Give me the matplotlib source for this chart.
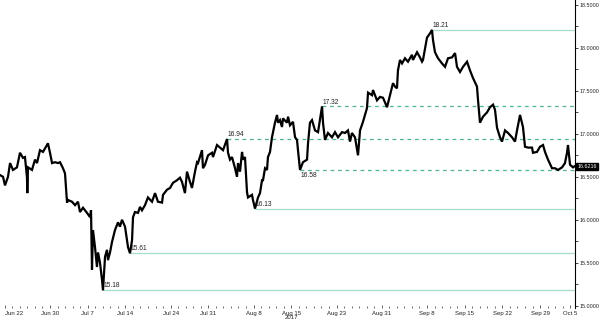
import numpy as np
import pandas as pd
import matplotlib
matplotlib.use('Agg')
import matplotlib.pyplot as plt

# trading-day index (0 = Jun 19 2017), fractional = intraday
days = [2.37, 2.77, 3.03, 3.43, 3.70, 4.09, 4.62, 5.02, 5.42, 5.68, 5.95, 5.99, 6.08, 6.61, 7.01,
        7.28, 7.67, 8.07, 8.60, 8.73, 9.00, 9.27, 9.66, 10.06, 10.33, 10.72, 10.99, 11.26, 11.39,
        11.92, 12.32, 12.71, 12.98, 13.38, 13.91, 14.31, 14.44, 14.57, 14.70, 14.97, 15.23, 15.37,
        15.63, 15.90, 16.03, 16.30, 16.56, 16.69, 16.96, 17.22, 17.62, 18.02, 18.28, 18.55, 18.95,
        19.21, 19.35, 19.61, 19.88, 20.01, 20.27, 20.67, 20.94, 21.20, 21.60, 21.99, 22.53, 22.93,
        23.32, 23.86, 23.99, 24.52, 24.92, 25.31, 25.84, 26.24, 26.51, 26.90, 27.17, 27.57, 27.83,
        28.23, 28.50, 28.63, 29.16, 29.29, 29.56, 29.96, 30.49, 30.62, 31.15, 31.55, 31.95, 32.48,
        32.61, 32.87, 33.14, 33.54, 33.80, 33.94, 34.20, 34.47, 34.60, 34.86, 35.13, 35.26, 35.79,
        35.92, 36.19, 36.59, 36.85, 37.12, 37.25, 37.52, 37.78, 37.91, 38.18, 38.44, 38.58, 38.84,
        39.11, 39.24, 39.50, 39.77, 39.90, 40.43, 40.57, 40.83, 41.23, 41.50, 41.76, 41.89, 42.16,
        42.55, 43.09, 43.22, 43.48, 43.75, 44.15, 44.55, 45.08, 45.21, 45.47, 45.87, 46.40, 46.80,
        47.20, 47.73, 48.13, 48.52, 48.79, 49.05, 49.45, 49.85, 50.12, 50.51, 51.04, 51.18, 51.71,
        51.84, 52.37, 52.77, 53.17, 53.70, 54.09, 54.49, 54.76, 55.02, 55.15, 55.42, 55.69, 56.08,
        56.48, 57.01, 57.14, 57.68, 58.07, 58.34, 58.47, 59.00, 59.40, 59.66, 59.80, 60.06, 60.46,
        60.99, 61.39, 61.79, 62.32, 62.72, 62.98, 63.38, 63.78, 64.31, 64.70, 65.10, 65.63, 65.77,
        66.03, 66.43, 66.96, 67.36, 67.76, 68.02, 68.29, 68.68, 68.95, 69.35, 69.75, 70.28, 70.67,
        70.94, 71.34, 71.73, 72.00, 72.40, 72.93, 73.06, 73.59, 73.99, 74.39, 74.65, 75.05, 75.58,
        75.98, 76.38, 76.91, 77.30, 77.57, 77.70, 77.97, 78.37, 78.55]
prices = [16.52, 16.50, 16.40, 16.50, 16.66, 16.58, 16.61, 16.78, 16.72, 16.73, 16.49, 16.31, 16.61,
          16.58, 16.70, 16.66, 16.81, 16.79, 16.87, 16.89, 16.78, 16.66, 16.67, 16.66, 16.67, 16.60,
          16.54, 16.20, 16.23, 16.21, 16.17, 16.21, 16.09, 16.14, 16.08, 16.03, 16.11, 15.42, 15.88,
          15.68, 15.45, 15.62, 15.50, 15.30, 15.18, 15.57, 15.65, 15.53, 15.62, 15.74, 15.88, 15.97,
          15.92, 16.00, 15.92, 15.76, 15.68, 15.61, 15.76, 16.03, 16.09, 16.08, 16.15, 16.11, 16.17,
          16.26, 16.21, 16.31, 16.21, 16.20, 16.29, 16.35, 16.37, 16.43, 16.46, 16.49, 16.44, 16.31,
          16.56, 16.44, 16.37, 16.56, 16.67, 16.66, 16.81, 16.60, 16.64, 16.75, 16.78, 16.73, 16.87,
          16.84, 16.81, 16.94, 16.78, 16.70, 16.73, 16.60, 16.50, 16.66, 16.56, 16.79, 16.70, 16.73,
          16.32, 16.26, 16.29, 16.23, 16.13, 16.26, 16.31, 16.46, 16.46, 16.60, 16.58, 16.73, 16.79,
          16.96, 17.02, 17.13, 17.22, 17.13, 17.16, 17.08, 17.18, 17.13, 17.20, 17.10, 17.14, 16.96,
          16.93, 16.81, 16.58, 16.67, 16.70, 16.89, 17.13, 17.16, 17.04, 17.02, 17.32, 17.13, 16.93,
          17.01, 16.96, 17.02, 16.96, 17.02, 17.01, 17.04, 16.91, 17.01, 16.96, 16.75, 17.04, 17.14,
          17.30, 17.48, 17.45, 17.51, 17.39, 17.43, 17.42, 17.31, 17.45, 17.59, 17.55, 17.53, 17.74,
          17.86, 17.82, 17.88, 17.84, 17.92, 17.86, 17.95, 17.89, 17.84, 17.86, 18.12, 18.17, 18.21,
          18.09, 17.95, 17.88, 17.82, 17.78, 17.88, 17.89, 17.94, 17.78, 17.72, 17.78, 17.84, 17.74,
          17.65, 17.55, 17.39, 17.13, 17.20, 17.25, 17.31, 17.34, 17.28, 17.07, 16.96, 16.91, 17.04,
          17.01, 16.96, 16.91, 17.04, 17.22, 17.08, 16.85, 16.84, 16.84, 16.78, 16.79, 16.85, 16.87,
          16.79, 16.70, 16.60, 16.60, 16.58, 16.61, 16.66, 16.78, 16.87, 16.64, 16.61, 16.6216]

# annotated levels: where each starts, value, dashed or solid, label above or below
level_days = [59.66, 16.03, 19.61, 36.19, 45.08, 32.48, 42.16]
level_vals = [18.21, 15.18, 15.61, 16.13, 17.32, 16.94, 16.58]
level_dashed = [False, False, False, False, True, True, True]
level_above = [True, True, True, True, True, True, False]

tick_dates = ['2017-06-22', '2017-06-30', '2017-07-07', '2017-07-14', '2017-07-24', '2017-07-31',
              '2017-08-08', '2017-08-15', '2017-08-23', '2017-08-31', '2017-09-08', '2017-09-15',
              '2017-09-22', '2017-09-29', '2017-10-05']
tick_labels = ['Jun 22', 'Jun 30', 'Jul 7', 'Jul 14', 'Jul 24', 'Jul 31', 'Aug 8', 'Aug 15\n2017',
               'Aug 23', 'Aug 31', 'Sep 8', 'Sep 15', 'Sep 22', 'Sep 29', 'Oct 5']
last_price = 16.6216

bdays = pd.bdate_range('2017-06-19', '2017-10-10')
tick_pos = [bdays.get_loc(pd.Timestamp(d)) for d in tick_dates]

plt.rcParams['font.family'] = ['Liberation Sans', 'DejaVu Sans']

fig = plt.figure(figsize=(6, 3.23), dpi=100)
ax = fig.add_axes([0, 15 / 323, 575 / 600, 308 / 323])

ax.plot(days, prices, color='black', lw=1.6, solid_joinstyle='miter', zorder=3)

x_end = 78.63
for d, v, dashed, above in zip(level_days, level_vals, level_dashed, level_above):
    if dashed:
        ax.plot([d, x_end], [v, v], color='#4fb39b', lw=0.9, ls=(0, (3, 3)), zorder=2)
    else:
        ax.plot([d, x_end], [v, v], color='#a6dccd', lw=0.9, zorder=2)
    ax.text(d + 0.1, v + (0.01 if above else -0.02), '{:.2f}'.format(v), fontsize=4.8,
            color='#222222', va='bottom' if above else 'top', ha='left', zorder=4)

ax.set_xlim(2.369, x_end)
ax.set_ylim(14.973, 18.558)

ax.yaxis.tick_right()
ax.set_yticks(np.arange(15.0, 18.51, 0.5))
ax.set_yticks(np.arange(15.25, 18.5, 0.5), minor=True)
ax.yaxis.set_major_formatter(matplotlib.ticker.FormatStrFormatter('%.4f'))
ax.tick_params(axis='y', which='major', length=2.5, width=0.6, labelsize=3.9, pad=1,
               colors='#222222')
ax.tick_params(axis='y', which='minor', length=1.8, width=0.5)

ax.set_xticks(tick_pos)
ax.set_xticklabels(tick_labels)
ax.set_xticks(np.arange(3, 79, 1), minor=True)
ax.tick_params(axis='x', which='major', length=2.5, width=0.5, labelsize=4.3, pad=2,
               colors='#222222', direction='in')
ax.tick_params(axis='x', which='minor', length=1.5, width=0.4, direction='in')
for lab in ax.get_xticklabels():
    lab.set_linespacing(0.9)
ax.get_xticklabels()[0].set_horizontalalignment('left')

for s in ['top', 'left', 'bottom']:
    ax.spines[s].set_visible(False)
ax.spines['right'].set_linewidth(0.8)

ax.text(1.004, last_price, '{:.4f}'.format(last_price), transform=ax.get_yaxis_transform(),
        fontsize=3.9, color='white', va='center', ha='left', zorder=5,
        bbox=dict(boxstyle='square,pad=0.15', facecolor='black', edgecolor='black'))

fig.savefig('out.png', dpi=100)
